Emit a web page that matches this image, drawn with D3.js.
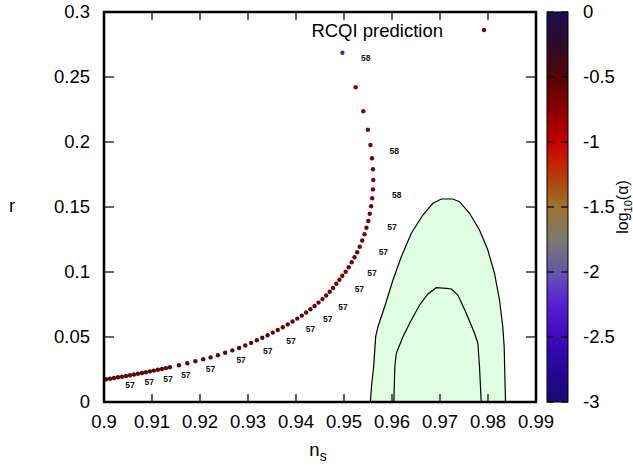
<!DOCTYPE html>
<html><head><meta charset="utf-8">
<script src="https://cdn.jsdelivr.net/npm/d3@7"></script>
<style>body{margin:0;background:#fff}svg{display:block}text{font-family:"Liberation Sans",Arial,Helvetica,sans-serif}</style>
</head><body>
<svg id="c" width="633" height="468"></svg>
<script>
// ---- data ----
const xTicks = [0.9,0.91,0.92,0.93,0.94,0.95,0.96,0.97,0.98,0.99];
const yTicks = [0,0.05,0.1,0.15,0.2,0.25,0.3];
const cbTicks = [0,-0.5,-1,-1.5,-2,-2.5,-3];

const pointNs = [0.90042,0.90125,0.90208,0.90291,0.90375,0.90458,0.90541,0.90624,0.90707,0.90791,
 0.90874,0.90957,0.91040,0.91124,0.91207,0.91290,0.91373,0.91561,0.91735,0.91904,
 0.92066,0.92220,0.92372,0.92524,0.92674,0.92815,0.92944,0.93065,0.93184,0.93298,
 0.93408,0.93516,0.93620,0.93725,0.93829,0.93928,0.94026,0.94120,0.94211,0.94301,
 0.94386,0.94469,0.94551,0.94628,0.94703,0.94773,0.94840,0.94904,0.94965,0.95035,
 0.95098,0.95160,0.95219,0.95275,0.95327,0.95379,0.95427,0.95468,0.95506,0.95537,
 0.95564,0.95587,0.95603,0.95610,0.95603,0.95583,0.95551,0.95497,0.95402,0.95243,0.94967];
const pointR = [0.01746,0.01792,0.01846,0.01900,0.01946,0.02000,0.02062,0.02115,0.02169,0.02231,
 0.02292,0.02354,0.02415,0.02477,0.02538,0.02608,0.02677,0.02823,0.02977,0.03131,
 0.03285,0.03431,0.03600,0.03785,0.03969,0.04154,0.04346,0.04546,0.04746,0.04946,
 0.05138,0.05338,0.05538,0.05754,0.05969,0.06192,0.06415,0.06646,0.06885,0.07131,
 0.07385,0.07646,0.07915,0.08192,0.08477,0.08777,0.09092,0.09400,0.09708,0.10023,
 0.10362,0.10746,0.11131,0.11515,0.11938,0.12423,0.12908,0.13400,0.13923,0.14477,
 0.15062,0.15677,0.16354,0.17077,0.17900,0.18746,0.19769,0.20946,0.22362,0.24208,0.26869];
const pointLogAlpha = [-0.55,-0.55,-0.55,-0.55,-0.55,-0.55,-0.55,-0.55,-0.55,-0.55,
 -0.55,-0.55,-0.55,-0.55,-0.55,-0.55,-0.55,-0.56,-0.56,-0.56,
 -0.56,-0.56,-0.57,-0.57,-0.57,-0.57,-0.57,-0.58,-0.58,-0.58,
 -0.58,-0.58,-0.59,-0.59,-0.59,-0.59,-0.6,-0.6,-0.6,-0.6,
 -0.6,-0.6,-0.61,-0.61,-0.61,-0.61,-0.62,-0.62,-0.62,-0.62,
 -0.63,-0.63,-0.63,-0.63,-0.64,-0.64,-0.64,-0.65,-0.65,-0.65,
 -0.66,-0.66,-0.67,-0.67,-0.68,-0.69,-0.7,-0.72,-0.74,-0.76,-2.3];

const labelNs = [0.95452,0.96049,0.96097,0.96000,0.95820,0.95583,0.95320,0.94979,0.94661,0.94301,
 0.93897,0.93412,0.92857,0.92220,0.91706,0.91332,0.90943,0.90541];
const labelR = [0.26438,0.19331,0.15900,0.13423,0.11523,0.09885,0.08669,0.07331,0.06408,0.05592,
 0.04715,0.03946,0.03208,0.02515,0.02054,0.01769,0.01500,0.01269];
const labelText = ["58","58","58","57","57","57","57","57","57","57","57","57","57","57","57","57","57","57"];

const outerNs = [0.95549,0.95576,0.95618,0.95660,0.95707,0.95847,0.96020,0.96194,0.96402,0.96644,
 0.96852,0.97027,0.97268,0.97407,0.97615,0.97823,0.97996,0.98136,0.98240,0.98308,0.98337,0.98365];
const outerR = [0,0.01308,0.02715,0.05023,0.05792,0.07331,0.09385,0.11177,0.12977,0.14385,
 0.15285,0.15615,0.15615,0.15408,0.14515,0.13231,0.11692,0.09900,0.07846,0.05792,0.04254,0];
const innerNs = [0.96038,0.96059,0.96090,0.96159,0.96228,0.96367,0.96575,0.96748,0.96923,0.97131,
 0.97235,0.97372,0.97547,0.97720,0.97789,0.97823,0.97859];
const innerR = [0,0.02715,0.03746,0.04385,0.05023,0.06054,0.07462,0.08308,0.08792,0.08746,
 0.08692,0.08231,0.06823,0.05285,0.04515,0.02715,0];

const legendLabel = "RCQI prediction";
const legendLogAlpha = -0.6;

// ---- palette (style) ----
const palDomain = [0,-0.25,-0.5,-0.75,-1,-1.15,-1.3,-1.5,-1.75,-2,-2.2,-2.4,-2.6,-2.8,-3];
const palColors = ["#1c0c50","#2c0a2a","#540404","#8a0000","#c40000","#c62004","#b0440c","#9c7430",
 "#7c7a6c","#6458a8","#5a28d4","#4a10c8","#3208b0","#22088e","#1c0a74"];
const color = d3.scaleLinear().domain(palDomain).range(palColors).clamp(true);

// ---- layout ----
const L=104, R=536, T=12, B=402;
const FS = 18.5;
const svg = d3.select("#c");
const x = d3.scaleLinear().domain([0.9,0.99]).range([L,R]);
const y = d3.scaleLinear().domain([0,0.3]).range([B,T]);

svg.append("defs").append("clipPath").attr("id","clip")
  .append("rect").attr("x",L).attr("y",T).attr("width",R-L).attr("height",B-T);
const plot = svg.append("g").attr("clip-path","url(#clip)");

// contours
const area = d3.line().x(d=>x(d[0])).y(d=>y(d[1]));
const outerPts = outerNs.map((v,i)=>[v,outerR[i]]);
const innerPts = innerNs.map((v,i)=>[v,innerR[i]]);
plot.append("path").attr("d",area(outerPts)+"Z").attr("fill","#e0ffe0").attr("stroke","none");
plot.append("path").attr("d",area(outerPts)).attr("fill","none").attr("stroke","#000").attr("stroke-width",1.2);
plot.append("path").attr("d",area(innerPts)).attr("fill","none").attr("stroke","#000").attr("stroke-width",1.2);

// labels
plot.selectAll("text.lab").data(labelText).enter().append("text")
  .attr("x",(d,i)=>x(labelNs[i])).attr("y",(d,i)=>y(labelR[i]))
  .attr("dy","0.35em").attr("text-anchor","middle")
  .attr("font-size",8.5).attr("font-weight","bold").attr("fill","#111").text(d=>d);

// points
plot.selectAll("circle.pt").data(pointNs).enter().append("circle")
  .attr("cx",d=>x(d)).attr("cy",(d,i)=>y(pointR[i])).attr("r",2.2)
  .attr("fill",(d,i)=>color(pointLogAlpha[i]));

// axes ticks (inward, mirrored)
const tk = svg.append("g").attr("stroke","#000").attr("stroke-width",1.2);
xTicks.forEach(v=>{
  tk.append("line").attr("x1",x(v)).attr("x2",x(v)).attr("y1",B).attr("y2",B-8);
  tk.append("line").attr("x1",x(v)).attr("x2",x(v)).attr("y1",T).attr("y2",T+8);
});
yTicks.forEach(v=>{
  tk.append("line").attr("x1",L).attr("x2",L+10).attr("y1",y(v)).attr("y2",y(v));
  tk.append("line").attr("x1",R).attr("x2",R-10).attr("y1",y(v)).attr("y2",y(v));
});
svg.append("rect").attr("x",L).attr("y",T).attr("width",R-L).attr("height",B-T)
  .attr("fill","none").attr("stroke","#000").attr("stroke-width",2.5);

// tick labels
svg.selectAll("text.xt").data(xTicks).enter().append("text")
  .attr("x",d=>x(d)).attr("y",B+26).attr("text-anchor","middle").attr("font-size",FS).text(d=>d);
svg.selectAll("text.yt").data(yTicks).enter().append("text")
  .attr("x",L-14).attr("y",d=>y(d)).attr("dy","0.35em").attr("text-anchor","end").attr("font-size",FS).text(d=>d);

// axis titles
const nx = svg.append("text").attr("x",318).attr("y",456).attr("text-anchor","middle").attr("font-size",FS);
nx.append("tspan").text("n");
nx.append("tspan").attr("dy",5).attr("font-size",14).text("s");
svg.append("text").attr("x",12).attr("y",212).attr("text-anchor","middle").attr("font-size",FS).text("r");

// legend
svg.append("text").attr("x",443).attr("y",37).attr("text-anchor","end").attr("font-size",FS).text(legendLabel);
svg.append("circle").attr("cx",484).attr("cy",30).attr("r",2.2).attr("fill",color(legendLogAlpha));

// colorbar
const cbL=547, cbR=568;
const cy = d3.scaleLinear().domain([0,-3]).range([T,B]);
const grad = svg.select("defs").append("linearGradient").attr("id","cbg")
  .attr("x1",0).attr("y1",0).attr("x2",0).attr("y2",1);
palDomain.forEach((v,i)=>grad.append("stop").attr("offset",(-v/3)).attr("stop-color",palColors[i]));
svg.append("rect").attr("x",cbL).attr("y",T).attr("width",cbR-cbL).attr("height",B-T)
  .attr("fill","url(#cbg)").attr("stroke","#000").attr("stroke-width",1);
const ct = svg.append("g").attr("stroke","#000").attr("stroke-width",1.2);
cbTicks.forEach(v=>{
  ct.append("line").attr("x1",cbL).attr("x2",cbL+7).attr("y1",cy(v)).attr("y2",cy(v));
  ct.append("line").attr("x1",cbR).attr("x2",cbR-7).attr("y1",cy(v)).attr("y2",cy(v));
});
svg.selectAll("text.ct").data(cbTicks).enter().append("text")
  .attr("x",583).attr("y",d=>cy(d)).attr("dy","0.35em").attr("font-size",FS).text(d=>d);
const cbl = svg.append("text").attr("transform","translate(628,207) rotate(-90)")
  .attr("text-anchor","middle").attr("font-size",16);
cbl.append("tspan").text("log");
cbl.append("tspan").attr("dy",4).attr("font-size",11).text("10");
cbl.append("tspan").attr("dy",-4).text("(α)");
</script>
</body></html>
